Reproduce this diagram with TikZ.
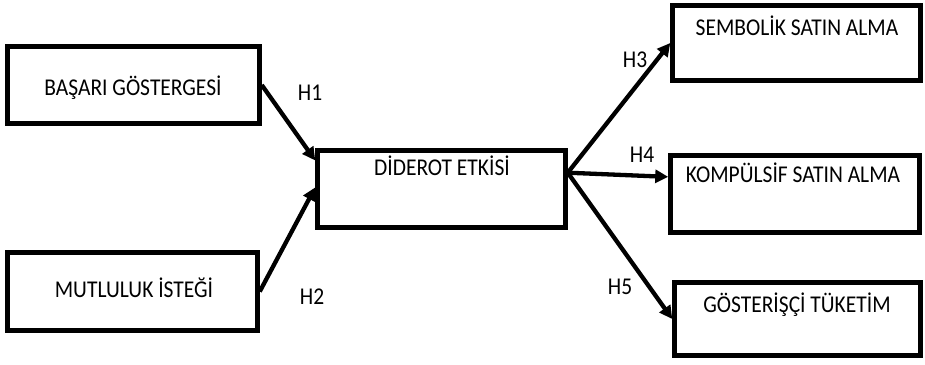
\documentclass[tikz,border=0pt]{standalone}
\usepackage{fontspec}
\usepackage{graphicx}
\setmainfont{Carlito}
\usetikzlibrary{arrows.meta,calc}
\newcommand{\stt}[1]{\scalebox{1}[1.12]{#1}}
\begin{document}
\begin{tikzpicture}[x=1pt,y=-1pt,
  box/.style={draw=black,line width=4.5pt,rectangle,minimum width=#1,inner sep=0pt},
  txt/.style={font=\fontsize{21.5}{24}\selectfont,text height=15pt,text depth=0pt,inner sep=0pt,anchor=center},
  arr/.style={line width=4.3pt,-{Triangle[length=13pt,width=13pt]}}]
\useasboundingbox (0,0) rectangle (925,364);
\node[box=252pt,minimum height=77pt] (bas) at (133.5,85) {};
\node[box=250pt,minimum height=78pt] (mut) at (132.5,291.5) {};
\node[box=248pt,minimum height=77pt] (dide) at (441.5,189) {};
\node[box=248pt,minimum height=75pt] (sem) at (796.5,43) {};
\node[box=249pt,minimum height=77pt] (kom) at (795,194) {};
\node[box=246pt,minimum height=73pt] (gos) at (797.5,319) {};
\node[txt] (tbas) at (133,88) {\stt{BAŞARI GÖSTERGESİ}};
\node[txt] (tmut) at (134,290) {\stt{MUTLULUK İSTEĞİ}};
\node[txt] (tdide) at (442,168) {\stt{DİDEROT ETKİSİ}};
\node[txt] (tsem) at (797,28) {\stt{SEMBOLİK SATIN ALMA}};
\node[txt] (tkom) at (793,175) {\stt{KOMPÜLSİF SATIN ALMA}};
\node[txt] (tgos) at (797,305) {\stt{GÖSTERİŞÇİ TÜKETİM}};
\node[txt] (h1) at (310,93) {\stt{H1}};
\node[txt] (h2) at (312,297) {\stt{H2}};
\node[txt] (h3) at (635,60) {\stt{H3}};
\node[txt] (h4) at (642,155) {\stt{H4}};
\node[txt] (h5) at (620,287) {\stt{H5}};
\coordinate (dout) at ($(dide.north east)!0.3!(dide.south east)$);
\draw[arr] (bas.east) -- ($(dide.north west)!0.15!(dide.south west)$);
\draw[arr] (mut.east) -- ($(dide.north west)!0.48!(dide.south west)$);
\draw[arr] (dout) -- (sem.west);
\draw[arr] (dout) -- ($(kom.north west)!0.29!(kom.south west)$);
\draw[arr] (dout) -- (gos.west);
\end{tikzpicture}
\end{document}
